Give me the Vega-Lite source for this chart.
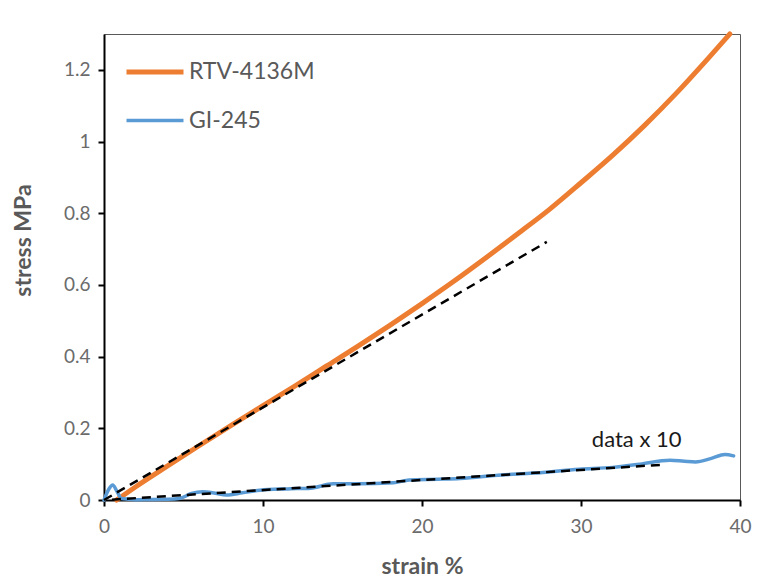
{
  "$schema": "https://vega.github.io/schema/vega-lite/v6.json",
  "autosize": "none",
  "width": 636,
  "height": 466,
  "padding": {"left": 104, "top": 34, "right": 32, "bottom": 80},
  "background": "white",
  "config": {
    "font": "Lato",
    "view": {"stroke": "#595959", "strokeWidth": 1},
    "axis": {
      "grid": false,
      "domainColor": "black",
      "domainWidth": 2,
      "tickColor": "black",
      "tickWidth": 2,
      "tickSize": 6,
      "labelFlush": false,
      "labelFont": "Lato",
      "labelFontSize": 19,
      "labelColor": "#6b6b6b",
      "titleFont": "Lato",
      "titleFontSize": 23,
      "titleFontWeight": "bold",
      "titleColor": "#595959"
    }
  },
  "datasets": {
    "curves": [
      {"series": "RTV-4136M", "strain": 0.8, "stress": 0},
      {"series": "RTV-4136M", "strain": 2, "stress": 0.037},
      {"series": "RTV-4136M", "strain": 4, "stress": 0.095},
      {"series": "RTV-4136M", "strain": 6, "stress": 0.152},
      {"series": "RTV-4136M", "strain": 8, "stress": 0.208},
      {"series": "RTV-4136M", "strain": 10, "stress": 0.263},
      {"series": "RTV-4136M", "strain": 12, "stress": 0.318},
      {"series": "RTV-4136M", "strain": 14, "stress": 0.374},
      {"series": "RTV-4136M", "strain": 16, "stress": 0.43},
      {"series": "RTV-4136M", "strain": 18, "stress": 0.488},
      {"series": "RTV-4136M", "strain": 20, "stress": 0.548},
      {"series": "RTV-4136M", "strain": 22, "stress": 0.61},
      {"series": "RTV-4136M", "strain": 24, "stress": 0.675},
      {"series": "RTV-4136M", "strain": 26, "stress": 0.742},
      {"series": "RTV-4136M", "strain": 28, "stress": 0.81},
      {"series": "RTV-4136M", "strain": 30, "stress": 0.885},
      {"series": "RTV-4136M", "strain": 32, "stress": 0.962},
      {"series": "RTV-4136M", "strain": 34, "stress": 1.045},
      {"series": "RTV-4136M", "strain": 36, "stress": 1.135},
      {"series": "RTV-4136M", "strain": 38, "stress": 1.232},
      {"series": "RTV-4136M", "strain": 39.36, "stress": 1.3},
      {"series": "GI-245", "strain": 0, "stress": 0},
      {"series": "GI-245", "strain": 0.3, "stress": 0.03},
      {"series": "GI-245", "strain": 0.55, "stress": 0.042},
      {"series": "GI-245", "strain": 0.8, "stress": 0.025},
      {"series": "GI-245", "strain": 1.1, "stress": 0.004},
      {"series": "GI-245", "strain": 2, "stress": 0.001},
      {"series": "GI-245", "strain": 4, "stress": 0.002},
      {"series": "GI-245", "strain": 4.8, "stress": 0.005},
      {"series": "GI-245", "strain": 5.5, "stress": 0.018},
      {"series": "GI-245", "strain": 6.2, "stress": 0.023},
      {"series": "GI-245", "strain": 7, "stress": 0.019},
      {"series": "GI-245", "strain": 7.7, "stress": 0.014},
      {"series": "GI-245", "strain": 8.7, "stress": 0.02},
      {"series": "GI-245", "strain": 9.8, "stress": 0.027},
      {"series": "GI-245", "strain": 11.5, "stress": 0.031},
      {"series": "GI-245", "strain": 13, "stress": 0.033},
      {"series": "GI-245", "strain": 14.4, "stress": 0.045},
      {"series": "GI-245", "strain": 16, "stress": 0.045},
      {"series": "GI-245", "strain": 18.2, "stress": 0.048},
      {"series": "GI-245", "strain": 19.2, "stress": 0.056},
      {"series": "GI-245", "strain": 21, "stress": 0.058},
      {"series": "GI-245", "strain": 22.4, "stress": 0.06},
      {"series": "GI-245", "strain": 25, "stress": 0.07},
      {"series": "GI-245", "strain": 27, "stress": 0.075},
      {"series": "GI-245", "strain": 29.9, "stress": 0.086},
      {"series": "GI-245", "strain": 32, "stress": 0.091},
      {"series": "GI-245", "strain": 33.7, "stress": 0.1},
      {"series": "GI-245", "strain": 35.6, "stress": 0.111},
      {"series": "GI-245", "strain": 36.5, "stress": 0.108},
      {"series": "GI-245", "strain": 37.2, "stress": 0.106},
      {"series": "GI-245", "strain": 38.2, "stress": 0.116},
      {"series": "GI-245", "strain": 39.05, "stress": 0.127},
      {"series": "GI-245", "strain": 39.6, "stress": 0.123}
    ],
    "fits": [
      {"fit": "RTV", "strain": 0, "stress": 0},
      {"fit": "RTV", "strain": 27.85, "stress": 0.72},
      {"fit": "GI", "strain": 0.5, "stress": 0.001},
      {"fit": "GI", "strain": 35, "stress": 0.098}
    ],
    "notes": [
      {"strain": 33.5, "stress": 0.167, "label": "data x 10"}
    ]
  },
  "layer": [
    {
      "data": {"name": "curves"},
      "mark": {"type": "line", "strokeCap": "round", "strokeJoin": "round", "interpolate": "monotone"},
      "encoding": {
        "x": {
          "field": "strain", "type": "quantitative",
          "scale": {"domain": [0, 40], "nice": false, "zero": false},
          "axis": {"values": [0, 10, 20, 30, 40], "title": "strain %", "labelPadding": 11, "titlePadding": 19}
        },
        "y": {
          "field": "stress", "type": "quantitative",
          "scale": {"domain": [0, 1.3], "nice": false},
          "axis": {"values": [0, 0.2, 0.4, 0.6, 0.8, 1, 1.2], "format": "~g", "title": "stress MPa", "labelPadding": 8, "titleX": -69, "titleY": 206}
        },
        "color": {
          "field": "series", "type": "nominal",
          "scale": {"domain": ["RTV-4136M", "GI-245"], "range": ["#ED7D31", "#5B9BD5"]},
          "legend": {
            "orient": "none", "legendX": 20, "legendY": 7, "title": null,
            "symbolType": "stroke", "symbolSize": 3249, "symbolStrokeWidth": 4.5,
            "labelFont": "Lato", "labelFontSize": 23, "labelColor": "#595959",
            "rowPadding": 6, "labelOffset": 3, "padding": 0
          }
        },
        "strokeWidth": {
          "field": "series", "type": "nominal",
          "scale": {"domain": ["RTV-4136M", "GI-245"], "range": [5, 3.5]},
          "legend": null
        },
        "detail": {"field": "series"}
      }
    },
    {
      "data": {"name": "fits"},
      "mark": {"type": "line", "color": "black", "strokeWidth": 2.5, "strokeDash": [9, 6]},
      "encoding": {
        "x": {"field": "strain", "type": "quantitative"},
        "y": {"field": "stress", "type": "quantitative"},
        "detail": {"field": "fit"}
      }
    },
    {
      "data": {"name": "notes"},
      "mark": {"type": "text", "font": "Lato", "fontSize": 22, "color": "#1a1a1a"},
      "encoding": {
        "x": {"field": "strain", "type": "quantitative"},
        "y": {"field": "stress", "type": "quantitative"},
        "text": {"field": "label"}
      }
    }
  ]
}
